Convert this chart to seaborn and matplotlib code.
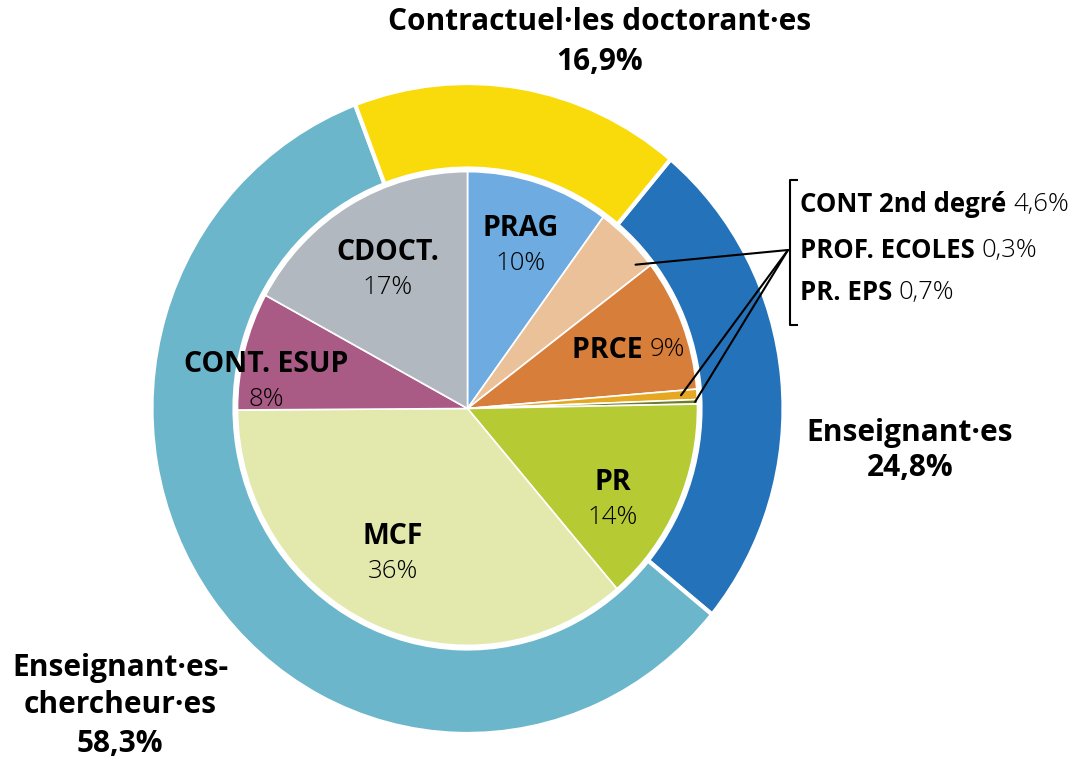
import numpy as np
import matplotlib.pyplot as plt
import seaborn as sns

sns.set_theme(style="white")
plt.rcParams['font.family'] = ['Open Sans', 'DejaVu Sans']

# outer ring
groups = ['Enseignant·es', 'Enseignant·es-\nchercheur·es', 'Contractuel·les doctorant·es']
group_values = [24.8, 58.3, 16.9]
group_labels = ['24,8%', '58,3%', '16,9%']
group_colors = ['#2472BA', '#6CB6CB', '#F9DB0B']

# inner pie
cats = ['PRAG', 'CONT 2nd degré', 'PRCE', 'PR. EPS', 'PROF. ECOLES',
        'PR', 'MCF', 'CONT. ESUP', 'CDOCT.']
cat_values = [10, 4.6, 9, 0.7, 0.3, 14, 36, 8, 17]
cat_labels = ['10%', '4,6%', '9%', '0,7%', '0,3%', '14%', '36%', '8%', '17%']
cat_colors = ['#6DABE1', '#EBC199', '#D87E3B', '#E6A823', '#6E7B2B',
              '#B6CA33', '#E3E9AD', '#A95B85', '#B2B8C0']

W, H = 1071, 761
SY = 1.03  # the original is slightly stretched vertically
fig = plt.figure(figsize=(W / 100, H / 100), dpi=100)
ax = fig.add_axes([0, 0, 1, 1])


def py(y):
    return (H - y) / SY


cx, cy = 467.5, py(408.5)
R_out, R_ring, R_in = 316, 233, 230

ax.pie(group_values, colors=group_colors, startangle=50, counterclock=False,
       radius=R_out, center=(cx, cy), frame=True,
       wedgeprops=dict(width=R_out - R_ring, edgecolor='white', linewidth=3))
inner, _ = ax.pie(cat_values, colors=cat_colors, startangle=90, counterclock=False,
                  radius=R_in, center=(cx, cy), frame=True,
                  wedgeprops=dict(edgecolor='white', linewidth=1.2))
ax.set_aspect('auto')
ax.set_xlim(0, W)
ax.set_ylim(0, H / SY)
ax.axis('off')

FS_OUT, FS_IN, FS_NUM, FS_LIST = 21.5, 20.5, 18.5, 18.5
out_kw = dict(fontsize=FS_OUT, fontweight='bold', color='black', ha='center', va='center')
in_kw = dict(fontsize=FS_IN, fontweight='bold', color='black', ha='center', va='center')
num_kw = dict(fontsize=FS_NUM, fontweight='light', color='black', ha='center', va='center')

# outer labels
ax.text(600, py(22), groups[2], **out_kw)
ax.text(600, py(62), group_labels[2], **out_kw)
ax.text(910, py(433), groups[0], **out_kw)
ax.text(910, py(468), group_labels[0], **out_kw)
ax.text(120, py(668), 'Enseignant·es-', **out_kw)
ax.text(120, py(705), 'chercheur·es', **out_kw)
ax.text(120, py(744), group_labels[1], **out_kw)

# inner labels (two lines)
two_line = {'PRAG': (521, 228), 'CDOCT.': (388, 252), 'CONT. ESUP': (266, 364),
            'MCF': (393, 537), 'PR': (613, 482)}
for name, (x, y) in two_line.items():
    i = cats.index(name)
    ax.text(x, py(y), name, **in_kw)
    ax.text(x, py(y + 35), cat_labels[i], **num_kw)


def inline(x, y, name, val, fs):
    t = ax.text(x, py(y), name + ' ', fontsize=fs, fontweight='bold',
                ha='left', va='center', color='black')
    ax.annotate(val, xy=(1, 0.5), xycoords=t, ha='left', va='center',
                fontsize=FS_NUM, fontweight='light', color='black')


inline(572, 350, 'PRCE', cat_labels[2], FS_IN)

# callout list
for name, y in [('CONT 2nd degré', 205), ('PROF. ECOLES', 250), ('PR. EPS', 293)]:
    inline(800, y, name, cat_labels[cats.index(name)], FS_LIST)

# bracket
bx = 790
ax.plot([bx + 8, bx, bx, bx + 8], [py(180), py(180), py(325), py(325)],
        color='black', lw=1.5, solid_capstyle='butt')
tip = (bx - 2, py(250))


def wedge_point(w, afrac, rfrac):
    ang = np.deg2rad(w.theta1 + afrac * (w.theta2 - w.theta1))
    return cx + w.r * rfrac * np.cos(ang), cy + w.r * rfrac * np.sin(ang)


for name, afrac, rfrac in [('CONT 2nd degré', 0.15, 0.95),
                           ('PR. EPS', 0.5, 0.93),
                           ('PROF. ECOLES', 0.5, 0.99)]:
    p = wedge_point(inner[cats.index(name)], afrac, rfrac)
    ax.plot([p[0], tip[0]], [p[1], tip[1]], color='black', lw=1.5)

plt.savefig('out.png', dpi=100)
